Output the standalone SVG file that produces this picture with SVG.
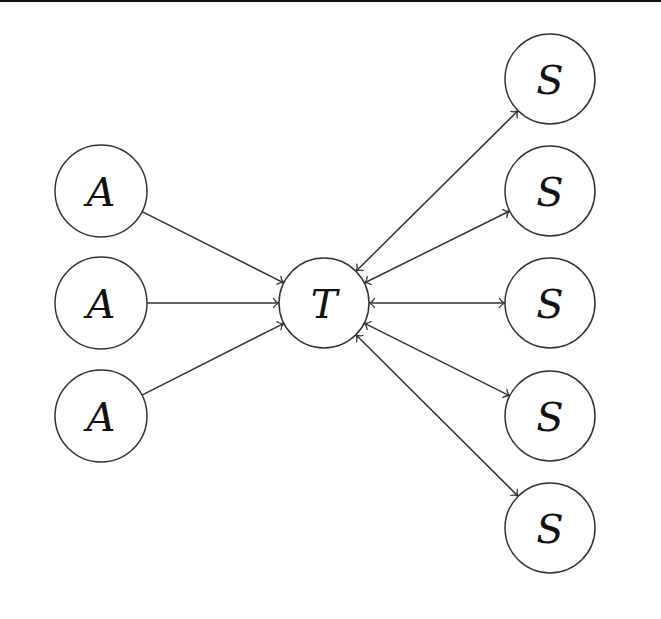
<svg xmlns="http://www.w3.org/2000/svg" width="661" height="619" viewBox="0 0 661 619">
<style>
.node circle{fill:#fff;stroke:#333;stroke-width:1.5}
.node text{font-family:'DejaVu Serif','Liberation Serif',serif;font-style:italic;font-size:40px;fill:#111;text-anchor:middle}
.edge{stroke:#333;stroke-width:1.5;fill:none}
</style>
<defs>
<marker id="arr" viewBox="-7 -6 8 12" markerWidth="8" markerHeight="12" refX="0" refY="0" orient="auto-start-reverse" markerUnits="userSpaceOnUse">
<path d="M-5.5,-4.5 C-4.2,-1.8 -1.2,-0.4 0,0 C-1.2,0.4 -4.2,1.8 -5.5,4.5" fill="none" stroke="#333" stroke-width="1.3" stroke-linecap="round"/>
</marker>
</defs>
<rect x="0" y="0" width="661" height="2" fill="#111"/>
<g id="connectors">
<line class="edge" x1="142.1" y1="211.6" x2="283.8" y2="282.8" marker-end="url(#arr)"/>
<line class="edge" x1="147" y1="303" x2="279" y2="303" marker-end="url(#arr)"/>
<line class="edge" x1="142" y1="395.2" x2="283.9" y2="323.3" marker-end="url(#arr)"/>
<line class="edge" x1="356" y1="271.3" x2="518" y2="110.7" marker-start="url(#arr)" marker-end="url(#arr)"/>
<line class="edge" x1="364.3" y1="283" x2="509.7" y2="211" marker-start="url(#arr)" marker-end="url(#arr)"/>
<line class="edge" x1="369" y1="303" x2="505" y2="303" marker-start="url(#arr)" marker-end="url(#arr)"/>
<line class="edge" x1="364.2" y1="323.1" x2="509.8" y2="395.9" marker-start="url(#arr)" marker-end="url(#arr)"/>
<line class="edge" x1="355.9" y1="334.8" x2="518.1" y2="496.2" marker-start="url(#arr)" marker-end="url(#arr)"/>
</g>
<g id="A1" class="node"><circle cx="101" cy="191" r="46"/><text x="101" y="206">A</text></g>
<g id="A2" class="node"><circle cx="101" cy="303" r="46"/><text x="101" y="318">A</text></g>
<g id="A3" class="node"><circle cx="101" cy="416" r="46"/><text x="101" y="431">A</text></g>
<g id="T" class="node"><circle cx="324" cy="303" r="45"/><text x="324" y="318">T</text></g>
<g id="S1" class="node"><circle cx="550" cy="79" r="45"/><text x="550" y="94">S</text></g>
<g id="S2" class="node"><circle cx="550" cy="191" r="45"/><text x="550" y="206">S</text></g>
<g id="S3" class="node"><circle cx="550" cy="303" r="45"/><text x="550" y="318">S</text></g>
<g id="S4" class="node"><circle cx="550" cy="416" r="45"/><text x="550" y="431">S</text></g>
<g id="S5" class="node"><circle cx="550" cy="528" r="45"/><text x="550" y="543">S</text></g>
</svg>
